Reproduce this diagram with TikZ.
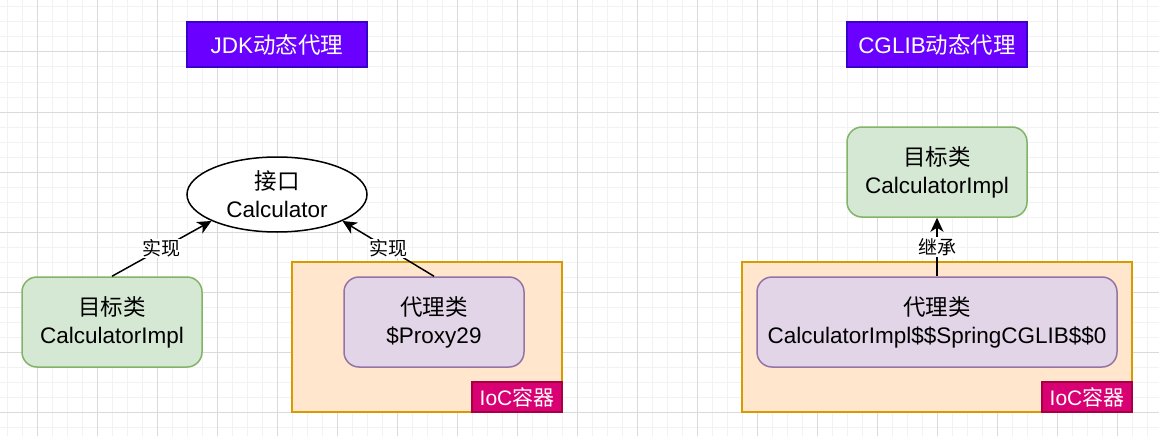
\documentclass[tikz,border=0pt]{standalone}
\usepackage{fontspec}
\setmainfont{Liberation Sans}
\newfontfamily\cjk{Noto Sans CJK SC}
\usetikzlibrary{arrows.meta, shapes.geometric}
\usepackage{xcolor}

\definecolor{gridmaj}{HTML}{DADADA}
\definecolor{gridmin}{HTML}{F2F2F2}
\definecolor{titlefill}{HTML}{6A00FF}
\definecolor{titleline}{HTML}{3700CC}
\definecolor{greenfill}{HTML}{D5E8D4}
\definecolor{greenline}{HTML}{82B366}
\definecolor{purplefill}{HTML}{E1D5E7}
\definecolor{purpleline}{HTML}{9673A6}
\definecolor{orangefill}{HTML}{FFE6CC}
\definecolor{orangeline}{HTML}{D79B00}
\definecolor{pinkfill}{HTML}{D80073}
\definecolor{pinkline}{HTML}{A50040}

\newcommand{\zh}[1]{{\cjk #1}}

\begin{document}
\begin{tikzpicture}[
    x=1pt, y=-1pt,
    titlebox/.style = {rectangle, draw=titleline, fill=titlefill, line width=1.5pt, text=white, minimum width=180pt, minimum height=45pt, inner sep=0pt, font=\fontsize{22.5}{27}\selectfont},
    classbox/.style = {rectangle, rounded corners=15pt, line width=1.5pt, minimum width=180pt, minimum height=90pt, inner sep=0pt, align=center, font=\fontsize{22.5}{28}\selectfont},
    targetbox/.style = {classbox, draw=greenline, fill=greenfill},
    proxybox/.style = {classbox, draw=purpleline, fill=purplefill},
    iocbox/.style = {rectangle, draw=orangeline, fill=orangefill, line width=1.5pt, minimum height=150pt, inner sep=0pt},
    ioclabel/.style = {rectangle, draw=pinkline, fill=pinkfill, line width=1.5pt, text=white, minimum width=90pt, minimum height=30pt, inner sep=0pt, font=\fontsize{21}{25}\selectfont},
    ifacebox/.style = {ellipse, draw=black, fill=white, line width=1.5pt, minimum width=180pt, minimum height=75pt, inner sep=0pt, align=center, font=\fontsize{22.5}{28}\selectfont},
    conn/.style = {draw=black, line width=1.5pt, -{Stealth[length=14pt, width=13pt, inset=4pt]}},
    connlabel/.style = {fill=white, inner sep=1pt, font=\fontsize{19}{22}\selectfont}
]

% Background grid
\useasboundingbox (0,0) rectangle (1159,436);
\fill[white] (0,0) rectangle (1159,436);
\foreach \gx in {7,22,...,1159} \draw[gridmin, line width=1pt] (\gx,0) -- (\gx,436);
\foreach \gy in {7,22,...,436} \draw[gridmin, line width=1pt] (0,\gy) -- (1159,\gy);
\foreach \gx in {37,97,...,1159} \draw[gridmaj, line width=1pt] (\gx,0) -- (\gx,436);
\foreach \gy in {52,112,...,436} \draw[gridmaj, line width=1pt] (0,\gy) -- (1159,\gy);

% JDK side
\node (jdk_title) [titlebox] at (277,44.5) {JDK\zh{动态代理}};
\node (jdk_iface) [ifacebox] at (277,194.5) {\zh{接口}\\Calculator};
\node (jdk_target) [targetbox] at (112,322) {\zh{目标类}\\CalculatorImpl};
\node (jdk_ioc) [iocbox, minimum width=270pt] at (427,337) {};
\node (jdk_ioclbl) [ioclabel] at (517,397) {IoC\zh{容器}};
\node (jdk_proxy) [proxybox] at (434,322) {\zh{代理类}\\\$Proxy29};

% CGLIB side
\node (cg_title) [titlebox] at (937,44.5) {CGLIB\zh{动态代理}};
\node (cg_target) [targetbox] at (937,172) {\zh{目标类}\\CalculatorImpl};
\node (cg_ioc) [iocbox, minimum width=390pt] at (937,337) {};
\node (cg_ioclbl) [ioclabel] at (1087,397) {IoC\zh{容器}};
\node (cg_proxy) [proxybox, minimum width=360pt] at (937,322) {\zh{代理类}\\CalculatorImpl\$\$SpringCGLIB\$\$0};

% Connections
\draw [conn] (jdk_target.north) -- node[connlabel]{\zh{实现}} (jdk_iface.202);
\draw [conn] (jdk_proxy.north) -- node[connlabel]{\zh{实现}} (jdk_iface.338);
\draw [conn] (cg_proxy.north) -- node[connlabel]{\zh{继承}} (cg_target.south);

\end{tikzpicture}
\end{document}
